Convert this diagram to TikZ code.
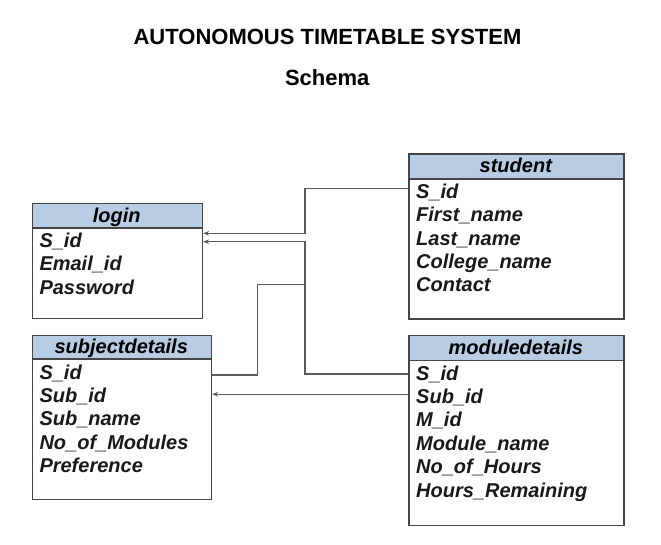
\documentclass[tikz,border=0pt]{standalone}
\usepackage{fontspec}
\setmainfont{Liberation Sans}
\usetikzlibrary{arrows.meta}
\definecolor{hdr}{HTML}{B8CCE4}
\definecolor{bord}{HTML}{454545}
\definecolor{conn}{HTML}{5A5A5A}
\tikzset{
  tbox/.style={draw=bord, line width=1.4pt, anchor=north west, inner sep=0pt, fill=white},
  hbox/.style={draw=bord, line width=1.4pt, anchor=north west, inner sep=0pt, fill=hdr},
  htext/.style={anchor=base, inner sep=0pt, font=\fontsize{20}{24}\selectfont\bfseries\itshape},
  rowtext/.style={anchor=base west, inner sep=0pt, font=\fontsize{20}{24}\selectfont\bfseries\itshape, text=black!90},
  titletext/.style={anchor=base, inner sep=0pt, font=\fontsize{22}{26}\selectfont\bfseries},
  connector/.style={draw=conn, line width=1.5pt},
  arrowed/.style={connector, -{Stealth[length=6pt,width=4.5pt]}},
}
\begin{document}
\begin{tikzpicture}[x=1pt,y=-1pt]
\useasboundingbox (0,0) rectangle (661,544);

% titles
\node[titletext] (title) at (327.5,44) {AUTONOMOUS TIMETABLE SYSTEM};
\node[titletext] (schema) at (327.2,85) {Schema};

% login
\node[tbox, minimum width=170pt, minimum height=115.3pt] (login) at (31.7,202.7) {};
\node[hbox, minimum width=170pt, minimum height=24.6pt] (loginh) at (login.north west) {};
\node[htext] (loginT) at (116.7,222) {login};
\node[rowtext] (login1) at (39.3,247.3) {S\_id};
\node[rowtext] (login2) at (39.3,270.8) {Email\_id};
\node[rowtext] (login3) at (39.3,294.3) {Password};

% student
\node[tbox, minimum width=215pt, minimum height=165pt] (student) at (408.3,153.3) {};
\node[hbox, minimum width=215pt, minimum height=25pt] (studenth) at (student.north west) {};
\node[htext] (studentT) at (515.8,172.5) {student};
\node[rowtext] (stu1) at (416,198.3) {S\_id};
\node[rowtext] (stu2) at (416,221.7) {First\_name};
\node[rowtext] (stu3) at (416,245.1) {Last\_name};
\node[rowtext] (stu4) at (416,268.5) {College\_name};
\node[rowtext] (stu5) at (416,291.9) {Contact};

% subjectdetails
\node[tbox, minimum width=179pt, minimum height=164pt] (subj) at (31.7,335) {};
\node[hbox, minimum width=179pt, minimum height=23.3pt] (subjh) at (subj.north west) {};
\node[htext] (subjT) at (121.2,353.3) {subjectdetails};
\node[rowtext] (subj1) at (39.3,379) {S\_id};
\node[rowtext] (subj2) at (39.3,402.4) {Sub\_id};
\node[rowtext] (subj3) at (39.3,425.8) {Sub\_name};
\node[rowtext] (subj4) at (39.3,449.2) {No\_of\_Modules};
\node[rowtext] (subj5) at (39.3,472.6) {Preference};

% moduledetails
\node[tbox, minimum width=215pt, minimum height=190pt] (mod) at (408.3,335) {};
\node[hbox, minimum width=215pt, minimum height=25pt] (modh) at (mod.north west) {};
\node[htext] (modT) at (515.8,354.5) {moduledetails};
\node[rowtext] (mod1) at (416,380) {S\_id};
\node[rowtext] (mod2) at (416,403.4) {Sub\_id};
\node[rowtext] (mod3) at (416,426.8) {M\_id};
\node[rowtext] (mod4) at (416,450.2) {Module\_name};
\node[rowtext] (mod5) at (416,473.6) {No\_of\_Hours};
\node[rowtext] (mod6) at (416,497) {Hours\_Remaining};

% junction coordinates
\coordinate (a1) at (305,188.3);
\coordinate (a2) at (305,233.3);
\coordinate (b1) at (305,374);
\coordinate (b2) at (305,241.7);
\coordinate (c1) at (257.3,375);
\coordinate (c2) at (257.3,284.3);
\coordinate (c3) at (305,284.3);

% connectors
\draw[arrowed] (student.west |- a1) -- (a1) -- (a2) -- (login.east |- a2);
\draw[arrowed] (mod.west |- b1) -- (b1) -- (b2) -- (login.east |- b2);
\draw[connector] (subj.east |- c1) -- (c1) -- (c2) -- (c3);
\draw[arrowed] (mod.west |- 0,394.3) -- (subj.east |- 0,394.3);
\end{tikzpicture}
\end{document}
